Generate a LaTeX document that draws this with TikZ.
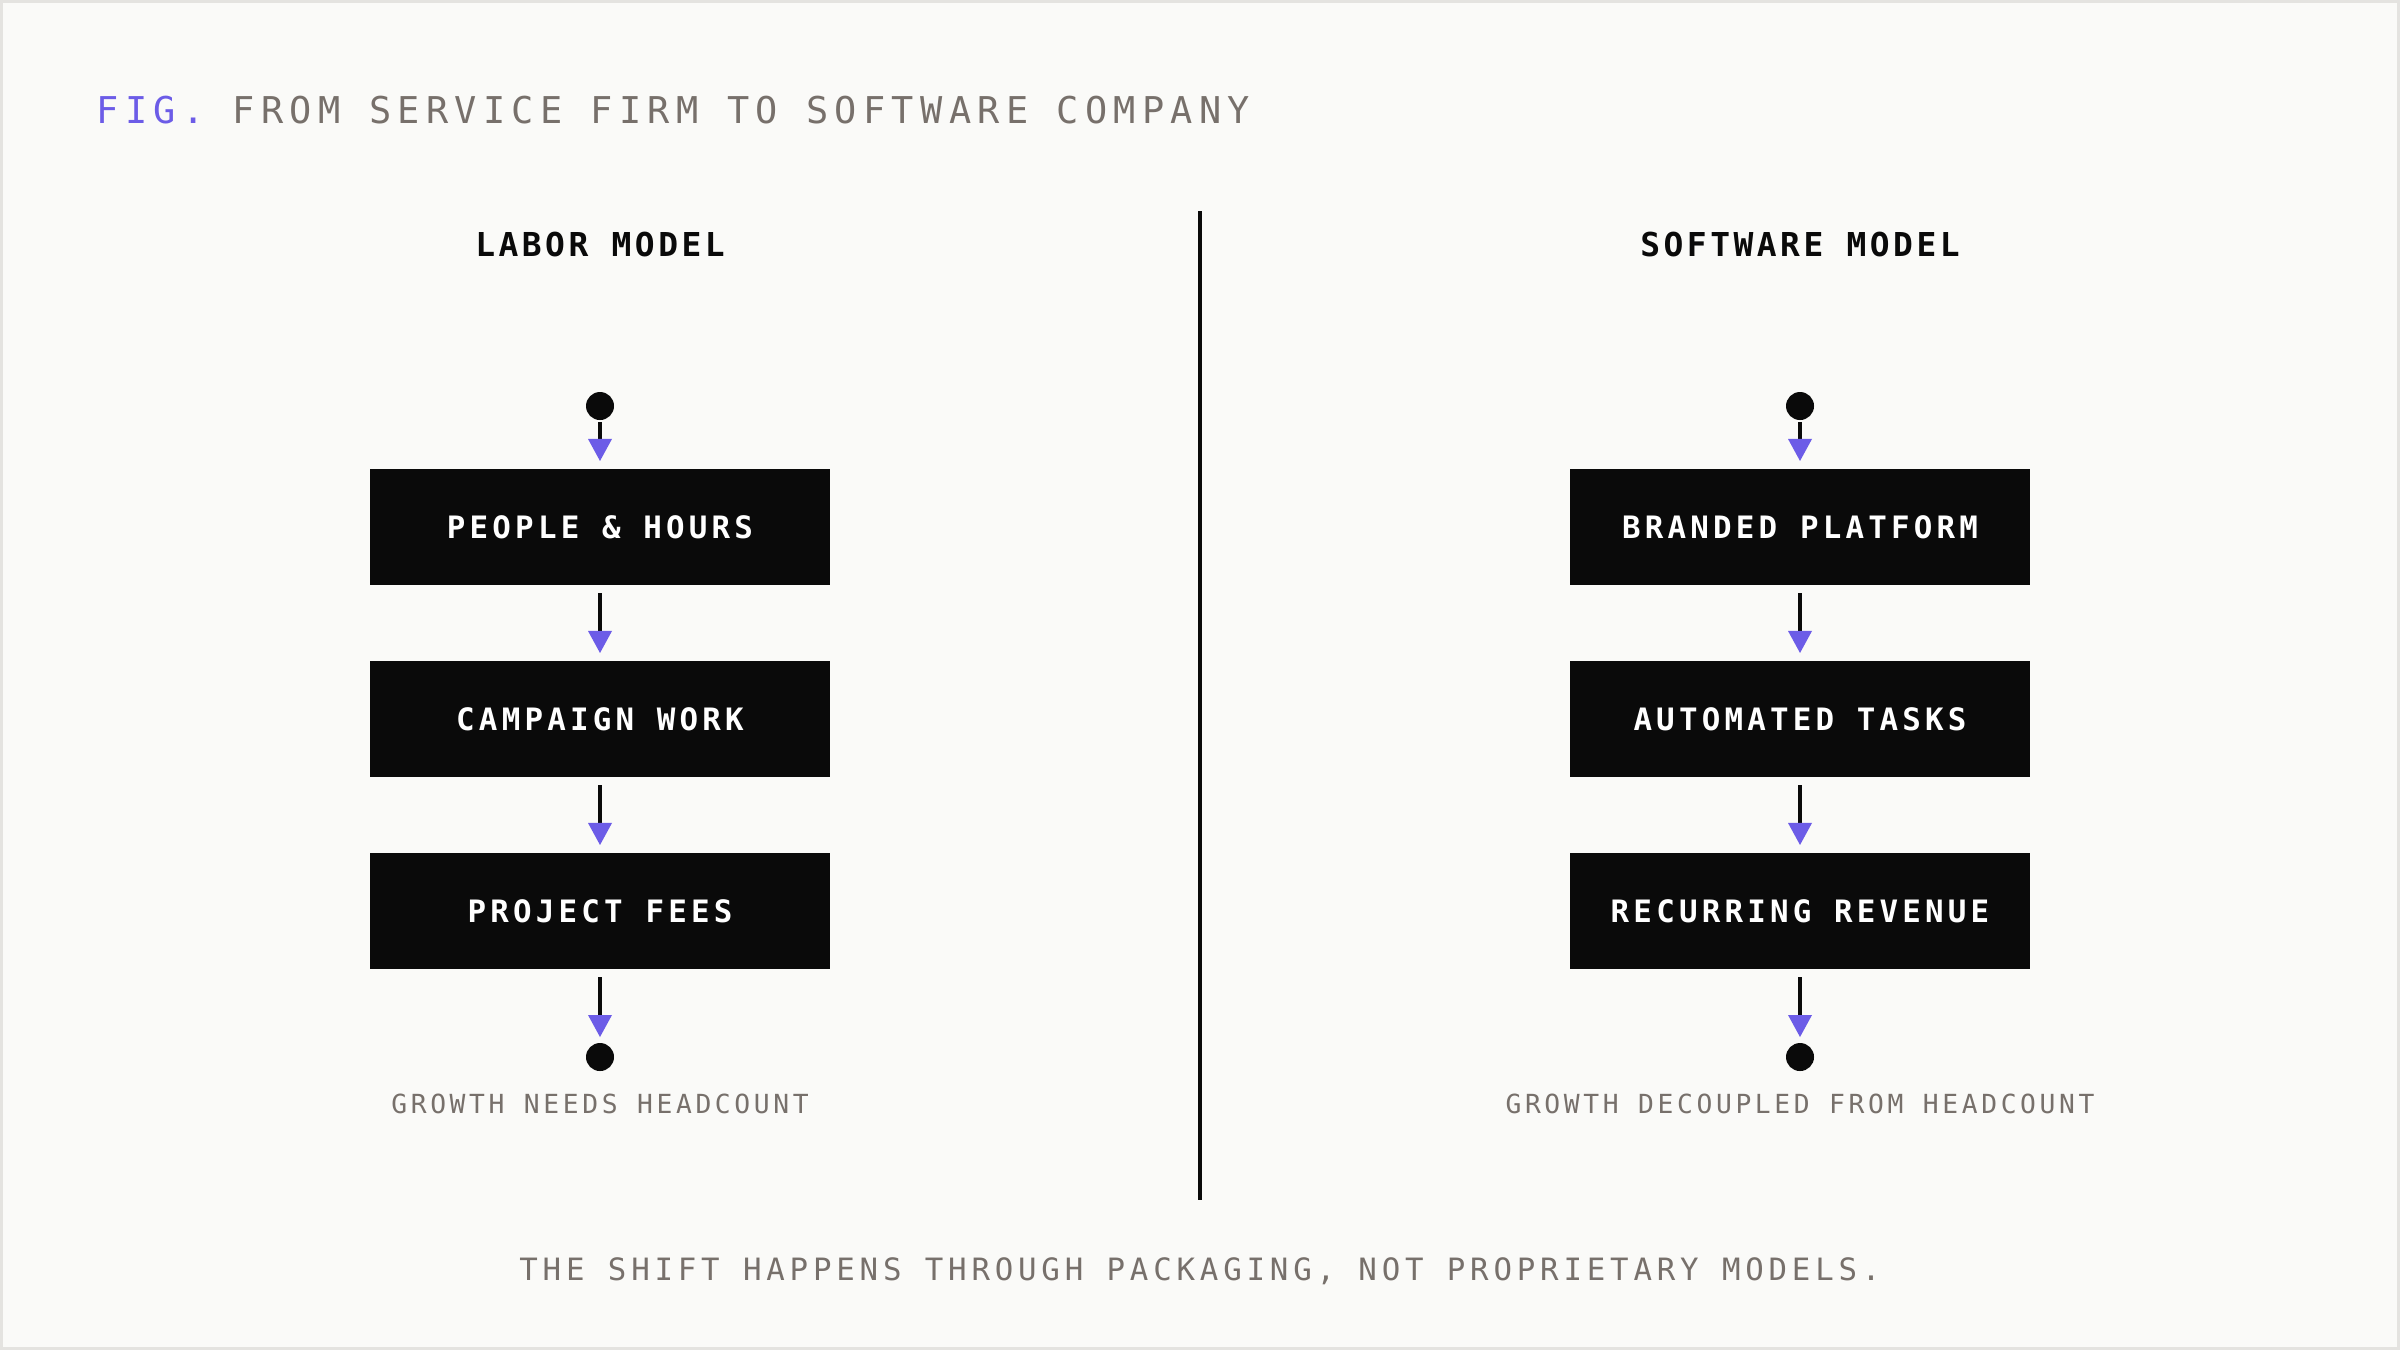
\documentclass[tikz,border=0pt]{standalone}
\usepackage{fontspec}
\usetikzlibrary{arrows.meta}
\setmainfont{DejaVu Sans Mono}
\newfontfamily\titlef[LetterSpace=17]{DejaVu Sans Mono}
\newfontfamily\headf[LetterSpace=10.6]{DejaVu Sans Mono}
\newfontfamily\boxf[LetterSpace=13.6]{DejaVu Sans Mono}
\newfontfamily\capf[LetterSpace=13.8]{DejaVu Sans Mono}
\newfontfamily\footf[LetterSpace=15.6]{DejaVu Sans Mono}
\definecolor{bg}{HTML}{FAFAF8}
\definecolor{frame}{HTML}{E4E3E0}
\definecolor{ink}{HTML}{0A0A0A}
\definecolor{accent}{HTML}{6C5CE7}
\definecolor{muted}{HTML}{77706B}
\begin{document}
\begin{tikzpicture}[x=0.01cm,y=-0.01cm,
  stepbox/.style={fill=ink, minimum width=4.6cm, minimum height=1.16cm, inner sep=0pt, outer sep=0pt,
    text=white, font=\boxf\bfseries\fontsize{8.77pt}{10pt}\selectfont, text height=6.39pt, text depth=0pt},
  dot/.style={circle, fill=ink, minimum size=0.28cm, inner sep=0pt, outer sep=0pt},
  flow/.style={draw=ink, line width=1.14pt, -{Triangle[length=0.22cm,width=0.24cm,color=accent,line width=0pt]}},
  head/.style={anchor=base, inner sep=0pt, text=ink, font=\headf\bfseries\fontsize{9.36pt}{11pt}\selectfont},
  caption/.style={anchor=base, inner sep=0pt, text=muted, font=\capf\fontsize{7.48pt}{9pt}\selectfont},
  foot/.style={anchor=base, inner sep=0pt, text=muted, font=\footf\fontsize{8.75pt}{10pt}\selectfont},
  titlestyle/.style={anchor=base west, inner sep=0pt, text=muted, font=\titlef\fontsize{10.5pt}{12pt}\selectfont}
]
\fill[frame] (0,0) rectangle (2400,1350);
\fill[bg] (3,3) rectangle (2397,1347);
\path[use as bounding box] (0,0) rectangle (2400,1350);

\node[titlestyle] (title) at (96,123) {\textcolor{accent}{FIG.} FROM SERVICE FIRM TO SOFTWARE COMPANY};

% divider
\coordinate (divtop) at (1200,211);
\coordinate (divbot) at (1200,1200);
\draw[ink, line width=1.14pt] (divtop) -- (divbot);

% left column
\node[head] (lhead) at (600,256) {LABOR MODEL};
\node[dot] (ld1) at (600,406) {};
\node[stepbox] (lb1) at (600,527) {PEOPLE \& HOURS};
\node[stepbox] (lb2) at (600,719) {CAMPAIGN WORK};
\node[stepbox] (lb3) at (600,911) {PROJECT FEES};
\node[dot] (ld2) at (600,1057) {};
\node[caption] (lcap) at (600,1113) {GROWTH NEEDS HEADCOUNT};
\draw[flow, shorten <=0.02cm, shorten >=0.08cm] (ld1.south) -- (lb1.north);
\draw[flow, shorten <=0.08cm, shorten >=0.08cm] (lb1.south) -- (lb2.north);
\draw[flow, shorten <=0.08cm, shorten >=0.08cm] (lb2.south) -- (lb3.north);
\draw[flow, shorten <=0.08cm, shorten >=0.06cm] (lb3.south) -- (ld2.north);

% right column
\node[head] (rhead) at (1800,256) {SOFTWARE MODEL};
\node[dot] (rd1) at (1800,406) {};
\node[stepbox] (rb1) at (1800,527) {BRANDED PLATFORM};
\node[stepbox] (rb2) at (1800,719) {AUTOMATED TASKS};
\node[stepbox] (rb3) at (1800,911) {RECURRING REVENUE};
\node[dot] (rd2) at (1800,1057) {};
\node[caption] (rcap) at (1800,1113) {GROWTH DECOUPLED FROM HEADCOUNT};
\draw[flow, shorten <=0.02cm, shorten >=0.08cm] (rd1.south) -- (rb1.north);
\draw[flow, shorten <=0.08cm, shorten >=0.08cm] (rb1.south) -- (rb2.north);
\draw[flow, shorten <=0.08cm, shorten >=0.08cm] (rb2.south) -- (rb3.north);
\draw[flow, shorten <=0.08cm, shorten >=0.06cm] (rb3.south) -- (rd2.north);

\node[foot] (footer) at (1200,1280) {THE SHIFT HAPPENS THROUGH PACKAGING, NOT PROPRIETARY MODELS.};
\end{tikzpicture}
\end{document}
